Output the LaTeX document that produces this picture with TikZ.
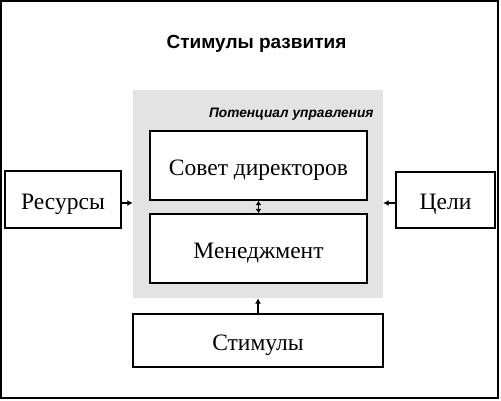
\documentclass[tikz,border=0pt]{standalone}
\usepackage{fontspec}
\setmainfont{Liberation Serif}
\setsansfont{Liberation Sans}
\usetikzlibrary{arrows.meta}
\definecolor{panelgray}{RGB}{227,227,227}
\tikzset{
  box/.style={draw=black, line width=1.4pt, fill=white, inner sep=0pt, text height=19pt, text depth=0pt, font=\fontsize{23.5}{27}\selectfont},
  arr/.style={line width=1.6pt, -{Latex[length=5.5pt,width=6pt]}},
  darr/.style={line width=1.6pt, {Latex[length=4.5pt,width=6pt]}-{Latex[length=4.5pt,width=6pt]}}
}
\begin{document}
\begin{tikzpicture}[x=1pt,y=-1pt]
\useasboundingbox (0,0) rectangle (501,400);
\draw[line width=2pt] (1,1) rectangle (498,398);
\node[anchor=base, font=\sffamily\bfseries\fontsize{19}{22}\selectfont] (title) at (256.5,48) {Стимулы развития};
\node[fill=panelgray, minimum width=250, minimum height=208, inner sep=0pt] (panel) at (258,194) {};
\node[anchor=base east, font=\sffamily\bfseries\itshape\fontsize{13.7}{16}\selectfont] (plabel) at (377,117) {Потенциал управления};
\node[box, minimum width=217, minimum height=69] (sovet) at (258.5,165.5) {Совет директоров};
\node[box, minimum width=217, minimum height=69] (men) at (258.5,248.5) {Менеджмент};
\node[box, minimum width=116, minimum height=57] (res) at (63,199.5) {Ресурсы};
\node[box, minimum width=99, minimum height=56] (goal) at (445.5,200) {Цели};
\node[box, minimum width=250, minimum height=53] (stim) at (258,340.5) {Стимулы};
\coordinate (ay) at (0,203);
\draw[arr] (res.east |- ay) -- (panel.west |- ay);
\draw[arr] (goal.west |- ay) -- (panel.east |- ay);
\draw[darr] (sovet.south) -- (men.north);
\draw[arr] (stim.north) -- (panel.south);
\end{tikzpicture}
\end{document}
